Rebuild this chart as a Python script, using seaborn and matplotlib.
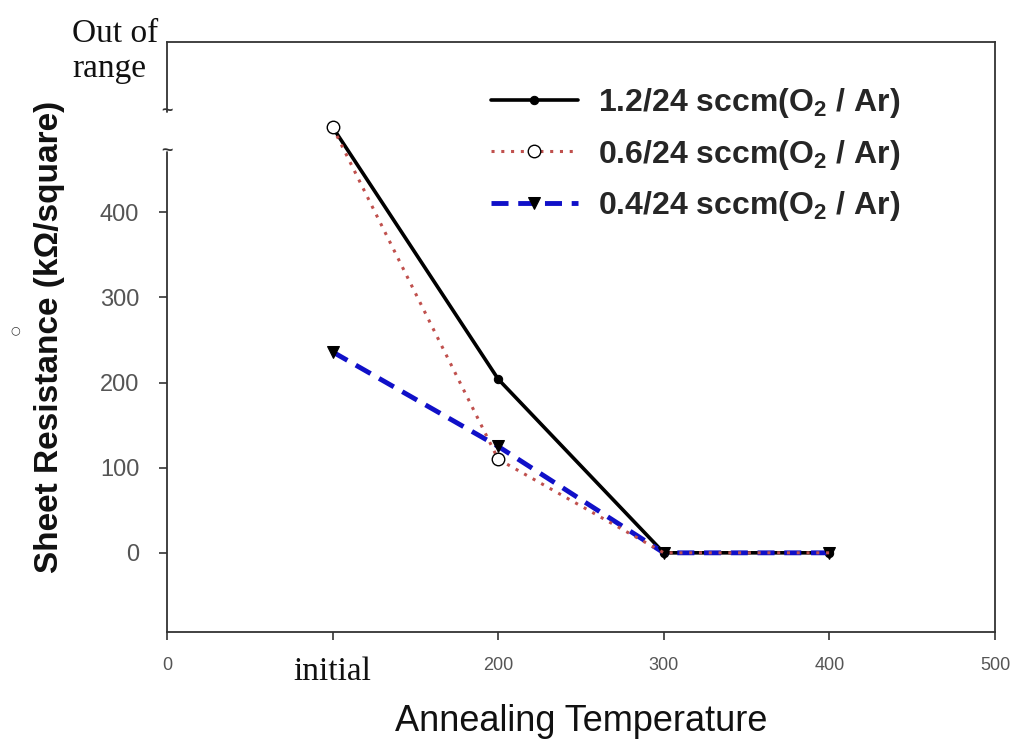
import numpy as np
import pandas as pd
import matplotlib
matplotlib.use("Agg")
import matplotlib.pyplot as plt
import seaborn as sns

# ---- data ----
temps = [100, 200, 300, 400]          # 100 = "initial"
r_12 = [500, 204, 0, 0]               # 1.2/24 sccm
r_06 = [500, 110, 0, 0]               # 0.6/24 sccm
r_04 = [236, 125, 0, 0]               # 0.4/24 sccm
labels = [r"1.2/24 sccm(O$_{\mathbf{2}}$ / Ar)",
          r"0.6/24 sccm(O$_{\mathbf{2}}$ / Ar)",
          r"0.4/24 sccm(O$_{\mathbf{2}}$ / Ar)"]
xticks = [0, 100, 200, 300, 400, 500]
xticklabels = ["0", "initial", "200", "300", "400", "500"]
yticks = [0, 100, 200, 300, 400]
break_lo, break_hi = 471, 518

sns.set_style("white")
plt.rcParams["font.family"] = ["Liberation Sans", "DejaVu Sans"]
plt.rcParams["mathtext.fontset"] = "custom"
plt.rcParams["mathtext.bf"] = "Liberation Sans:bold"
plt.rcParams["mathtext.rm"] = "Liberation Sans"

fig = plt.figure(figsize=(10.15, 7.42), dpi=100)
ax = fig.add_axes([167/1015, 1-632/742, (995-167)/1015, (632-42)/742])

sns.lineplot(x=temps, y=r_12, ax=ax, color="black", lw=2.6, marker="o",
             markersize=6, markerfacecolor="black", markeredgecolor="black",
             label=labels[0], zorder=3)
sns.lineplot(x=temps, y=r_06, ax=ax, color="#c0504d", lw=2.2, linestyle=(0, (1, 2.2)),
             marker="o", markersize=9, markerfacecolor="white",
             markeredgecolor="black", markeredgewidth=1.0, markevery=[0, 1],
             label=labels[1], zorder=3.2)
sns.lineplot(x=temps, y=r_04, ax=ax, color="#1010c8", lw=3.5, linestyle=(0, (3.5, 2)),
             marker="v", markersize=9, markerfacecolor="black",
             markeredgecolor="black", label=labels[2], zorder=3.1)

ax.set_xlim(0, 500)
ax.set_ylim(-93, 600)
ax.set_xticks(xticks)
ax.set_xticklabels(xticklabels)
ax.set_yticks(yticks)
ax.set_yticklabels([str(v) for v in yticks])

for s in ax.spines.values():
    s.set_color("#333333")
    s.set_linewidth(1.3)
ax.spines["left"].set_visible(False)
# broken y axis
ax.plot([0, 0], [-93, break_lo], color="#333333", lw=1.3, clip_on=False)
ax.plot([0, 0], [break_hi, 600], color="#333333", lw=1.3, clip_on=False)
for yb in (break_lo, break_hi):
    ax.text(0, yb, "~", ha="center", va="center", fontsize=14,
            fontweight="bold", color="#333333", clip_on=False)

ax.tick_params(axis="y", direction="out", length=6, width=1.2, pad=14,
               labelsize=17, labelcolor="#555555", left=True, color="#333333")
ax.tick_params(axis="x", direction="out", length=6, width=1.2, pad=12,
               labelsize=13, labelcolor="#555555", bottom=True, color="#333333")
for t in ax.get_xticklabels():
    if t.get_text() == "initial":
        t.set_family("Liberation Serif")
        t.set_fontsize(24)
        t.set_color("#111111")

ax.set_xlabel("Annealing Temperature", fontsize=26, labelpad=12, color="#111111")
ax.set_ylabel("Sheet Resistance (k\u03a9/square)", fontsize=24, fontweight="bold",
              labelpad=25, color="#111111")

fig.text(72/1015, 1-42/742, "Out of", family="Liberation Serif",
         fontsize=24, va="baseline", ha="left", color="#111111")
fig.text(72/1015, 1-77/742, "range", family="Liberation Serif",
         fontsize=24, va="baseline", ha="left", color="#111111")
fig.text(15/1015, 1-330/742, "\u25cb", fontsize=8, ha="center", va="center",
         family="DejaVu Sans", color="#333333")

leg = ax.legend(loc="upper left", bbox_to_anchor=(0.356, 0.974), frameon=False,
                prop={"family": "Liberation Sans", "weight": "bold", "size": 23},
                handlelength=2.75, labelspacing=0.55, handletextpad=0.6)

fig.savefig("out.png", dpi=100)
